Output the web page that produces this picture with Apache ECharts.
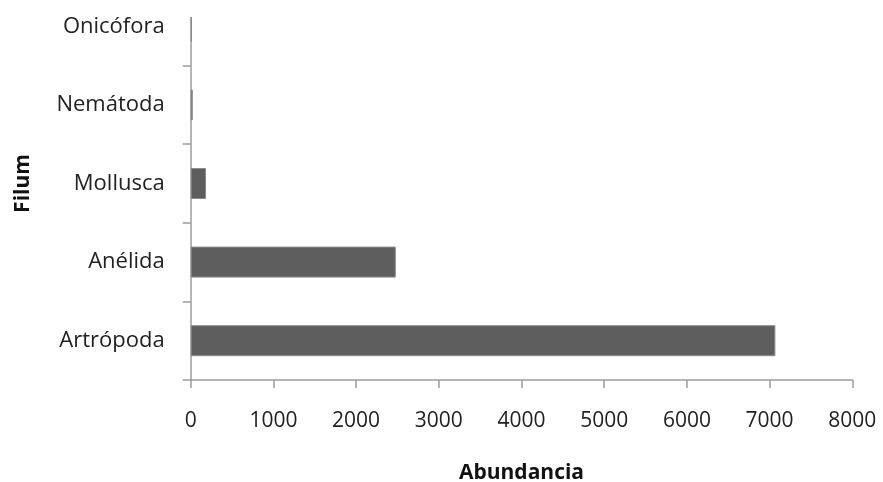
<!DOCTYPE html>
<html>
<head>
<meta charset="utf-8">
<script src="https://cdn.jsdelivr.net/npm/echarts@6/dist/echarts.min.js"></script>
<style>
  html, body { margin: 0; padding: 0; background: #fff; }
  #chart { width: 883px; height: 482px; }
</style>
</head>
<body>
<div id="chart"></div>
<script>
// Abundance by phylum (bottom to top)
const phyla = ['Artrópoda', 'Anélida', 'Mollusca', 'Nemátoda', 'Onicófora'];
const abundance = [7070, 2480, 185, 25, 15];
const xTicks = [0, 1000, 2000, 3000, 4000, 5000, 6000, 7000, 8000];

const FONT = '"Open Sans", "Noto Sans", sans-serif';
const AXIS_GRAY = '#9c9c9c';

const chart = echarts.init(document.getElementById('chart'), null, { renderer: 'canvas' });

chart.setOption({
  animation: false,
  backgroundColor: '#ffffff',
  grid: {
    left: 190.7, right: 30.7, top: -13, bottom: 102,
    containLabel: false, outerBoundsMode: 'none'
  },
  xAxis: {
    type: 'value',
    min: xTicks[0],
    max: xTicks[xTicks.length - 1],
    interval: 1000,
    name: 'Abundancia',
    nameLocation: 'middle',
    nameGap: 83,
    nameTextStyle: { fontFamily: FONT, fontSize: 21, fontWeight: 'bold', color: '#111' },
    axisLine: { show: true, lineStyle: { color: AXIS_GRAY, width: 1.5 } },
    axisTick: { show: true, length: 8, lineStyle: { color: AXIS_GRAY, width: 1.5 } },
    axisLabel: {
      margin: 31, fontFamily: FONT, fontSize: 21, color: '#222',
      formatter: v => String(v)
    },
    splitLine: { show: false }
  },
  yAxis: {
    type: 'category',
    data: phyla,
    name: 'Filum',
    nameLocation: 'middle',
    nameGap: 157,
    nameRotate: 90,
    nameTextStyle: { fontFamily: FONT, fontSize: 21, fontWeight: 'bold', color: '#111' },
    axisLine: { show: true, lineStyle: { color: AXIS_GRAY, width: 1.5 } },
    axisTick: { show: true, length: 8, lineStyle: { color: AXIS_GRAY, width: 1.5 } },
    axisLabel: { margin: 26, fontFamily: FONT, fontSize: 22, color: '#222' },
    splitLine: { show: false }
  },
  series: [{
    type: 'bar',
    data: abundance,
    barWidth: 31,
    itemStyle: { color: '#5e5e5e', borderColor: '#8a8a8a', borderWidth: 1 }
  }],
  graphic: [{
    type: 'rect',
    z: 100,
    shape: { x: 0, y: 0, width: 883, height: 17 },
    style: { fill: '#ffffff' }
  }]
});
</script>
</body>
</html>
